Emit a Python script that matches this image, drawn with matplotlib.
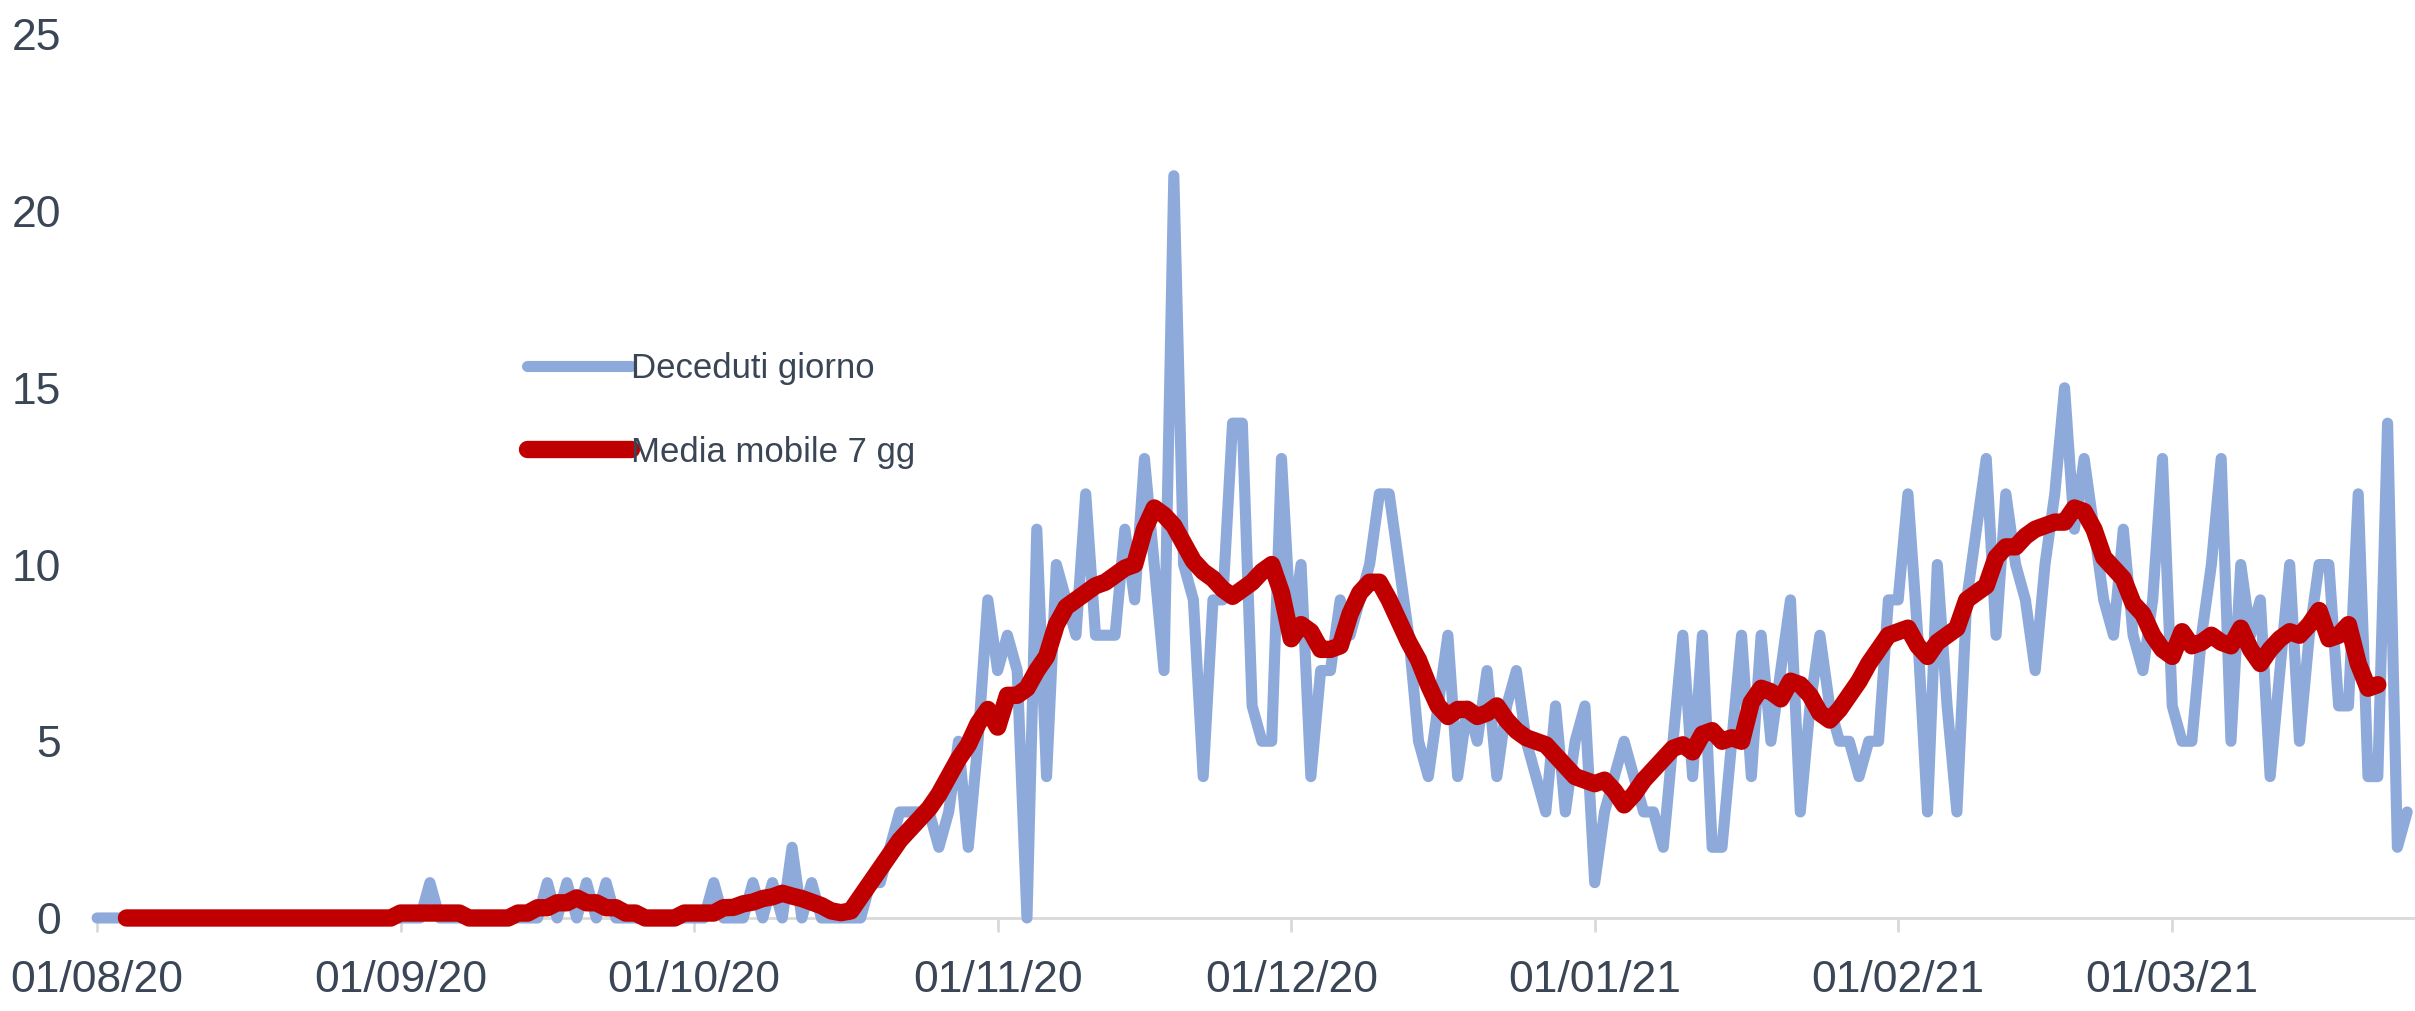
import matplotlib
matplotlib.use('Agg')
import matplotlib.pyplot as plt
import matplotlib.dates as mdates
import pandas as pd

# DATA - decessi giornalieri, un mese per lista
deceduti_ago = [0] * 31
deceduti_set = [0, 0, 0, 1] + [0] * 11 + [1, 0, 1, 0, 1, 0, 1] + [0] * 8
deceduti_ott = [0, 0, 1, 0, 0, 0, 1, 0, 1, 0, 2, 0, 1, 0, 0, 0, 0, 0, 1, 1,
                2, 3, 3, 3, 3, 2, 3, 5, 2, 5, 9]
deceduti_nov = [7, 8, 7, 0, 11, 4, 10, 9, 8, 12, 8, 8, 8, 11, 9, 13, 10, 7, 21, 10,
                9, 4, 9, 9, 14, 14, 6, 5, 5, 13]
deceduti_dic = [8, 10, 4, 7, 7, 9, 8, 9, 10, 12, 12, 10, 8, 5, 4, 6, 8, 4, 6, 5,
                7, 4, 6, 7, 5, 4, 3, 6, 3, 5, 6]
deceduti_gen = [1, 3, 4, 5, 4, 3, 3, 2, 5, 8, 4, 8, 2, 2, 5, 8, 4, 8, 5, 7,
                9, 3, 6, 8, 6, 5, 5, 4, 5, 5, 9]
deceduti_feb = [9, 12, 8, 3, 10, 6, 3, 9, 11, 13, 8, 12, 10, 9, 7, 10, 12, 15, 11, 13,
                11, 9, 8, 11, 8, 7, 9, 13]
deceduti_mar = [6, 5, 5, 8, 10, 13, 5, 10, 8, 9, 4, 7, 10, 5, 8, 10, 10, 6, 6, 12,
                4, 4, 14, 2, 3]

# media mobile 7 gg (centrata), parte dal 04/08/20
media_ago = [0.0] * 28
media_set = [0.14] * 7 + [0.0] * 5 + [0.14, 0.14, 0.29, 0.29, 0.43, 0.43, 0.57, 0.43,
                                      0.43, 0.29, 0.29, 0.14, 0.14] + [0.0] * 4 + [0.14]
media_ott = [0.14, 0.14, 0.14, 0.29, 0.3, 0.4, 0.45, 0.55, 0.6, 0.7, 0.62, 0.55, 0.45,
             0.35, 0.2, 0.15, 0.2, 0.6, 1.0, 1.4, 1.8, 2.2, 2.5, 2.8, 3.1, 3.5, 4.0,
             4.5, 4.9, 5.5, 5.9]
media_nov = [5.4, 6.3, 6.3, 6.5, 7.0, 7.4, 8.3, 8.8, 9.0, 9.2, 9.4, 9.5, 9.7, 9.9, 10.0,
             11.0, 11.6, 11.4, 11.1, 10.6, 10.1, 9.8, 9.6, 9.3, 9.1, 9.3, 9.5, 9.8, 10.0, 9.2]
media_dic = [7.9, 8.3, 8.1, 7.6, 7.6, 7.7, 8.6, 9.2, 9.5, 9.5, 9.0, 8.4, 7.8, 7.3, 6.6,
             6.0, 5.7, 5.9, 5.9, 5.7, 5.8, 6.0, 5.6, 5.3, 5.1, 5.0, 4.9, 4.6, 4.3, 4.0, 3.9]
media_gen = [3.8, 3.9, 3.6, 3.2, 3.5, 3.9, 4.2, 4.5, 4.8, 4.9, 4.7, 5.2, 5.3, 5.0, 5.1,
             5.0, 6.1, 6.5, 6.4, 6.2, 6.7, 6.6, 6.3, 5.8, 5.6, 5.9, 6.3, 6.7, 7.2, 7.6, 8.0]
media_feb = [8.1, 8.2, 7.7, 7.4, 7.8, 8.0, 8.2, 9.0, 9.2, 9.4, 10.2, 10.5, 10.5, 10.8,
             11.0, 11.1, 11.2, 11.2, 11.6, 11.5, 11.0, 10.2, 9.9, 9.6, 8.9, 8.6, 8.0, 7.6]
media_mar = [7.4, 8.1, 7.7, 7.8, 8.0, 7.8, 7.7, 8.2, 7.6, 7.2, 7.6, 7.9, 8.1, 8.0, 8.3,
             8.7, 7.9, 8.0, 8.3, 7.2, 6.5, 6.6]

deceduti = (deceduti_ago + deceduti_set + deceduti_ott + deceduti_nov + deceduti_dic
            + deceduti_gen + deceduti_feb + deceduti_mar)
media = (media_ago + media_set + media_ott + media_nov + media_dic
         + media_gen + media_feb + media_mar)

giorni = pd.date_range('2020-08-01', periods=len(deceduti), freq='D')
giorni_media = pd.date_range('2020-08-04', periods=len(media), freq='D')

mesi = pd.date_range('2020-08-01', '2021-03-01', freq='MS')
y_ticks = [0, 5, 10, 15, 20, 25]

TEXT = '#3a4556'
plt.rcParams['font.family'] = ['Liberation Sans Narrow', 'Liberation Sans', 'DejaVu Sans']

# PLOT
fig = plt.figure(figsize=(24.15, 10.11), dpi=100)
ax = fig.add_axes([0.0402, 0.092, 0.9598, 0.874])

ax.plot(giorni, deceduti, color='#8eaadb', lw=8, solid_joinstyle='round',
        solid_capstyle='round', label='Deceduti giorno', clip_on=False, zorder=2)
ax.plot(giorni_media, media, color='#c00000', lw=12.5, solid_joinstyle='round',
        solid_capstyle='round', label='Media mobile 7 gg', clip_on=False, zorder=3)

ax.set_ylim(0, 25)
ax.set_xlim(pd.Timestamp('2020-08-01'), pd.Timestamp('2020-08-01') + pd.Timedelta(days=236.8))
ax.set_yticks(y_ticks)
ax.set_xticks(mesi)
ax.xaxis.set_major_formatter(mdates.DateFormatter('%d/%m/%y'))

for s in ['top', 'right', 'left']:
    ax.spines[s].set_visible(False)
ax.spines['bottom'].set_color('#d9d9d9')
ax.spines['bottom'].set_linewidth(2)
ax.spines['bottom'].set_zorder(1)

ax.tick_params(axis='x', length=10, width=2, color='#d9d9d9', pad=20,
               labelsize=32, labelcolor=TEXT)
ax.tick_params(axis='y', length=0, pad=26, labelsize=32, labelcolor=TEXT)

ax.legend(loc='center left', bbox_to_anchor=(0.211, 0.594), bbox_transform=fig.transFigure,
          frameon=False, handlelength=3.0, handletextpad=0.0, labelspacing=1.45,
          borderpad=0, fontsize=25, labelcolor=TEXT)

plt.savefig('out.png', dpi=100)
